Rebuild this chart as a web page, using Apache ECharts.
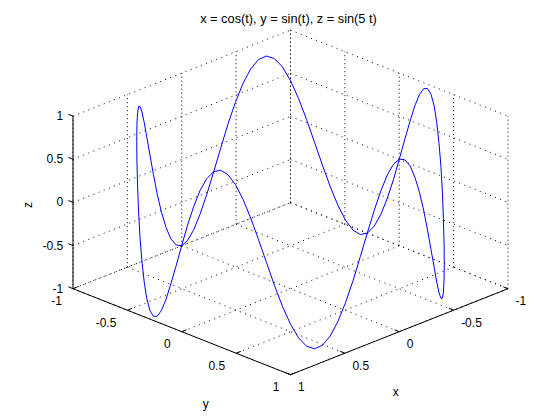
<!DOCTYPE html>
<html><head><meta charset="utf-8">
<script src="https://cdn.jsdelivr.net/npm/echarts@6/dist/echarts.min.js"></script>
<style>html,body{margin:0;padding:0;background:#fff}#c{width:560px;height:420px}</style>
</head><body><div id="c"></div>
<script>
// ---- chart data ----
const chartTitle = 'x = cos(t), y = sin(t), z = sin(5 t)';
const xTicks = [-1, -0.5, 0, 0.5, 1];
const yTicks = [-1, -0.5, 0, 0.5, 1];
const zTicks = [-1, -0.5, 0, 0.5, 1];
const xTickLabels = ['-1', '-0.5', '0', '0.5', '1'];
const yTickLabels = ['-1', '-0.5', '0', '0.5', '1'];
const zTickLabels = ['-1', '-0.5', '0', '0.5', '1'];
const axisNames = ['x', 'y', 'z'];

// curve samples (t = 0..360 deg, 3 deg apart)
const xs = [1,.999,.995,.988,.978,.966,.951,.934,.914,.891,.866,.839,.809,.777,.743,.707,.669,.629,.588,.545,.5,.454,.407,.358,.309,.259,.208,.156,.105,.052,0,
-.052,-.105,-.156,-.208,-.259,-.309,-.358,-.407,-.454,-.5,-.545,-.588,-.629,-.669,-.707,-.743,-.777,-.809,-.839,-.866,-.891,-.914,-.934,-.951,-.966,-.978,-.988,-.995,-.999,-1,
-.999,-.995,-.988,-.978,-.966,-.951,-.934,-.914,-.891,-.866,-.839,-.809,-.777,-.743,-.707,-.669,-.629,-.588,-.545,-.5,-.454,-.407,-.358,-.309,-.259,-.208,-.156,-.105,-.052,0,
.052,.105,.156,.208,.259,.309,.358,.407,.454,.5,.545,.588,.629,.669,.707,.743,.777,.809,.839,.866,.891,.914,.934,.951,.966,.978,.988,.995,.999,1];
const ys = [0,.052,.105,.156,.208,.259,.309,.358,.407,.454,.5,.545,.588,.629,.669,.707,.743,.777,.809,.839,.866,.891,.914,.934,.951,.966,.978,.988,.995,.999,1,
.999,.995,.988,.978,.966,.951,.934,.914,.891,.866,.839,.809,.777,.743,.707,.669,.629,.588,.545,.5,.454,.407,.358,.309,.259,.208,.156,.105,.052,0,
-.052,-.105,-.156,-.208,-.259,-.309,-.358,-.407,-.454,-.5,-.545,-.588,-.629,-.669,-.707,-.743,-.777,-.809,-.839,-.866,-.891,-.914,-.934,-.951,-.966,-.978,-.988,-.995,-.999,-1,
-.999,-.995,-.988,-.978,-.966,-.951,-.934,-.914,-.891,-.866,-.839,-.809,-.777,-.743,-.707,-.669,-.629,-.588,-.545,-.5,-.454,-.407,-.358,-.309,-.259,-.208,-.156,-.105,-.052,0];
const zs = [0,.259,.5,.707,.866,.966,1,.966,.866,.707,.5,.259,0,-.259,-.5,-.707,-.866,-.966,-1,-.966,-.866,-.707,-.5,-.259,
0,.259,.5,.707,.866,.966,1,.966,.866,.707,.5,.259,0,-.259,-.5,-.707,-.866,-.966,-1,-.966,-.866,-.707,-.5,-.259,
0,.259,.5,.707,.866,.966,1,.966,.866,.707,.5,.259,0,-.259,-.5,-.707,-.866,-.966,-1,-.966,-.866,-.707,-.5,-.259,
0,.259,.5,.707,.866,.966,1,.966,.866,.707,.5,.259,0,-.259,-.5,-.707,-.866,-.966,-1,-.966,-.866,-.707,-.5,-.259,
0,.259,.5,.707,.866,.966,1,.966,.866,.707,.5,.259,0,-.259,-.5,-.707,-.866,-.966,-1,-.966,-.866,-.707,-.5,-.259,
0];

// ---- view (orthographic projection to a 2D plane) ----
const CX = 290.5, KU = 108.75, CY = 202.4, KV = 86.3, DEPTH = 0.4983;
const W = 560, H = 420;
function proj(x, y, z) { return [y - x, z - DEPTH * (x + y)]; }
function seg(a, b) { const p = proj(a[0], a[1], a[2]), q = proj(b[0], b[1], b[2]); return [p[0], p[1], q[0], q[1]]; }

// grid lines on the three back planes
const gridSegs = [];
xTicks.forEach(v => { gridSegs.push(seg([v, -1, -1], [v, 1, -1])); gridSegs.push(seg([v, -1, -1], [v, -1, 1])); });
yTicks.forEach(v => { gridSegs.push(seg([-1, v, -1], [1, v, -1])); gridSegs.push(seg([-1, v, -1], [-1, v, 1])); });
zTicks.forEach(v => { gridSegs.push(seg([1, -1, v], [-1, -1, v])); gridSegs.push(seg([-1, -1, v], [-1, 1, v])); });

// axis lines and ticks
const T = 0.043;
const axisSegs = [seg([1, -1, -1], [1, -1, 1]), seg([1, -1, -1], [1, 1, -1]), seg([1, 1, -1], [-1, 1, -1])];
xTicks.forEach(v => axisSegs.push(seg([v, 1, -1], [v, 1 - T, -1])));
yTicks.forEach(v => axisSegs.push(seg([1, v, -1], [1 - T, v, -1])));
zTicks.forEach(v => axisSegs.push(seg([1, -1, v], [1, -1 - T, v])));

// text anchored to the 3D axes
const textItems = [];
xTicks.forEach((v, i) => textItems.push({ p: proj(v, 1, -1), text: xTickLabels[i], dx: 7.5, dy: 12.7, align: 'left' }));
yTicks.forEach((v, i) => textItems.push({ p: proj(1, v, -1), text: yTickLabels[i], dx: -11, dy: 12.7, align: 'right' }));
zTicks.forEach((v, i) => textItems.push({ p: proj(1, -1, v), text: zTickLabels[i], dx: -9.8, dy: 0, align: 'right' }));
textItems.push({ p: proj(0, 1, -1), text: axisNames[0], dx: -3.5, dy: 60.7, align: 'center' });
textItems.push({ p: proj(1, 0, -1), text: axisNames[1], dx: 24, dy: 72, align: 'center' });
textItems.push({ p: proj(1, -1, 0), text: axisNames[2], dx: -44.6, dy: 2.6, align: 'center', rot: Math.PI / 2 });

const curve = xs.map((x, i) => proj(x, ys[i], zs[i]));

const FONT = '12px "Liberation Sans", Arial, sans-serif';
function segRenderer(dotted) {
  return function (params, api) {
    const p = api.coord([api.value(0), api.value(1)]);
    const q = api.coord([api.value(2), api.value(3)]);
    let dash = null;
    if (dotted) dash = Math.abs(p[0] - q[0]) < 0.5 ? [1, 3] : [1, 4.5];
    return { type: 'line', shape: { x1: p[0], y1: p[1], x2: q[0], y2: q[1] },
      style: { stroke: '#000', lineWidth: 1, lineDash: dash, fill: null } };
  };
}

const chart = echarts.init(document.getElementById('c'), null, { renderer: 'svg' });
chart.setOption({
  animation: false,
  backgroundColor: '#fff',
  title: { text: chartTitle, left: 288.5, top: 12, textAlign: 'center', padding: 0,
    textStyle: { fontSize: 12.8, fontWeight: 'normal', color: '#000', fontFamily: 'Liberation Sans' } },
  grid: { left: 0, top: 0, width: W, height: H, containLabel: false },
  xAxis: { type: 'value', show: false, min: -CX / KU, max: (W - CX) / KU },
  yAxis: { type: 'value', show: false, min: (CY - H) / KV, max: CY / KV },
  series: [
    { type: 'custom', coordinateSystem: 'cartesian2d', silent: true, data: gridSegs, renderItem: segRenderer(true), z: 1 },
    { type: 'custom', coordinateSystem: 'cartesian2d', silent: true, data: axisSegs, renderItem: segRenderer(false), z: 2 },
    { type: 'line', data: curve, showSymbol: false, symbol: 'none', clip: false, silent: true, z: 3,
      lineStyle: { color: '#0000ff', width: 1 } },
    { type: 'custom', coordinateSystem: 'cartesian2d', silent: true, z: 4,
      data: textItems.map(t => [t.p[0], t.p[1]]),
      renderItem: function (params, api) {
        const t = textItems[params.dataIndex];
        const c = api.coord([api.value(0), api.value(1)]);
        return { type: 'text', x: c[0] + t.dx, y: c[1] + t.dy, rotation: t.rot || 0,
          style: { text: t.text, fill: '#000', font: FONT, align: t.align, verticalAlign: 'middle',
            textAlign: t.align, textVerticalAlign: 'middle' } };
      } }
  ]
});
</script>
</body></html>
